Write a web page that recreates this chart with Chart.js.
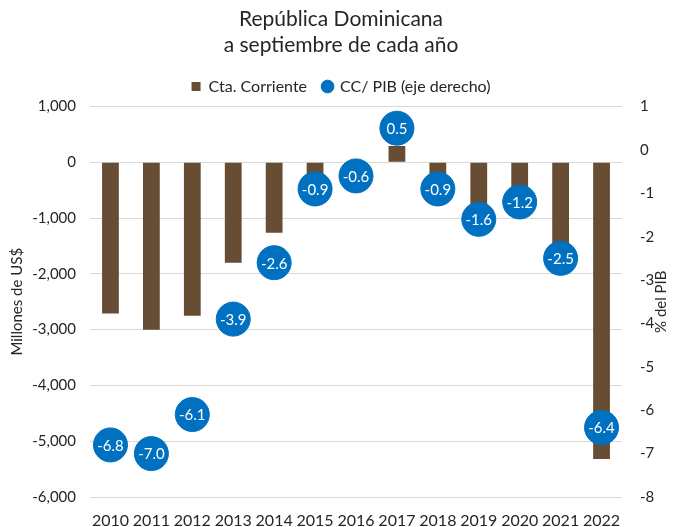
<!DOCTYPE html>
<html>
<head>
<meta charset="utf-8">
<script src="https://cdn.jsdelivr.net/npm/chart.js@4/dist/chart.umd.min.js"></script>
<style>
  html, body { margin: 0; padding: 0; background: #fff; overflow: hidden; }
  #wrap { width: 682px; height: 527px; position: relative; }
</style>
</head>
<body>
<div id="wrap"><canvas id="c"></canvas></div>
<script>
// Cuenta corriente a septiembre de cada año (millones de US$) y CC/PIB (%)
const years = ['2010', '2011', '2012', '2013', '2014', '2015', '2016', '2017', '2018', '2019', '2020', '2021', '2022'];
const ctaCorriente = [-2710, -3000, -2750, -1800, -1265, -420, -150, 290, -400, -900, -550, -1600, -5320];
const ccPib = [-6.8, -7.0, -6.1, -3.9, -2.6, -0.9, -0.6, 0.5, -0.9, -1.6, -1.2, -2.5, -6.4];

const FONT = 'Lato, "Noto Sans", sans-serif';
const TEXT = '#262626';
const BROWN = '#664d33';
const BLUE = '#0070c0';

// valor dentro de cada círculo
const circleLabels = {
  id: 'circleLabels',
  afterDatasetsDraw(chart) {
    const ctx = chart.ctx;
    const meta = chart.getDatasetMeta(1);
    ctx.save();
    ctx.fillStyle = '#fff';
    ctx.font = '15px ' + FONT;
    ctx.textAlign = 'center';
    ctx.textBaseline = 'middle';
    meta.data.forEach((pt, i) => {
      ctx.fillText(ccPib[i].toFixed(1), pt.x, pt.y + 1);
    });
    ctx.restore();
  }
};

// título del eje derecho, leído de abajo hacia arriba
const rightTitle = {
  id: 'rightTitle',
  afterDraw(chart) {
    const ctx = chart.ctx;
    const area = chart.chartArea;
    ctx.save();
    ctx.translate(661, (area.top + area.bottom) / 2);
    ctx.rotate(-Math.PI / 2);
    ctx.fillStyle = TEXT;
    ctx.font = '15px ' + FONT;
    ctx.textAlign = 'center';
    ctx.textBaseline = 'middle';
    ctx.fillText('% del PIB', 0, 0);
    ctx.restore();
  }
};

// un poco más de aire bajo la leyenda
const legendGap = {
  id: 'legendGap',
  afterInit(chart) {
    const fit = chart.legend.fit;
    chart.legend.fit = function () {
      fit.call(this);
      this.height += 2;
    };
  }
};

new Chart(document.getElementById('c'), {
  data: {
    labels: years,
    datasets: [
      {
        type: 'bar',
        label: 'Cta. Corriente',
        data: ctaCorriente,
        backgroundColor: BROWN,
        yAxisID: 'y',
        order: 1,
        barPercentage: 0.82,
        categoryPercentage: 0.5,
        pointStyle: 'rect',
      },
      {
        type: 'line',
        label: 'CC/ PIB (eje derecho)',
        data: ccPib,
        yAxisID: 'y1',
        order: 0,
        showLine: false,
        pointStyle: 'circle',
        pointRadius: 17,
        pointHoverRadius: 17,
        pointBackgroundColor: BLUE,
        pointBorderColor: BLUE,
        backgroundColor: BLUE,
        borderColor: BLUE,
      },
    ],
  },
  options: {
    responsive: true,
    maintainAspectRatio: false,
    animation: false,
    layout: { padding: { top: 6, left: 0, right: 0, bottom: 0 } },
    plugins: {
      tooltip: { enabled: false },
      title: {
        display: true,
        text: ['República Dominicana', 'a septiembre de cada año'],
        color: TEXT,
        font: { family: FONT, size: 21, weight: 'normal', lineHeight: 1.25 },
        padding: { top: 0, bottom: 4 },
      },
      legend: {
        display: true,
        labels: {
          usePointStyle: true,
          boxWidth: 9,
          boxHeight: 9,
          color: TEXT,
          font: { family: FONT, size: 16 },
          padding: 16,
          sort: (a, b) => a.datasetIndex - b.datasetIndex,
        },
      },
    },
    scales: {
      x: {
        grid: { display: false },
        border: { display: false },
        ticks: { color: TEXT, font: { family: FONT, size: 16 }, padding: 6, maxRotation: 0, autoSkip: false },
        afterFit: (s) => { s.height = 30; },
      },
      y: {
        position: 'left',
        min: -6000,
        max: 1000,
        grid: { color: '#d9d9d9', drawTicks: false },
        border: { display: false },
        ticks: {
          stepSize: 1000,
          color: TEXT,
          font: { family: FONT, size: 15 },
          padding: 14,
          callback: (v) => v.toLocaleString('en-US'),
        },
        title: {
          display: true,
          text: 'Millones de US$',
          color: TEXT,
          font: { family: FONT, size: 15 },
          padding: { top: 8, bottom: 0 },
        },
        afterFit: (s) => { s.width = 90; },
      },
      y1: {
        position: 'right',
        min: -8,
        max: 1,
        grid: { display: false },
        border: { display: false },
        ticks: { stepSize: 1, color: TEXT, font: { family: FONT, size: 15 }, padding: 10 },
        afterFit: (s) => { s.width = 60; },
      },
    },
  },
  plugins: [circleLabels, rightTitle, legendGap],
});
</script>
</body>
</html>
